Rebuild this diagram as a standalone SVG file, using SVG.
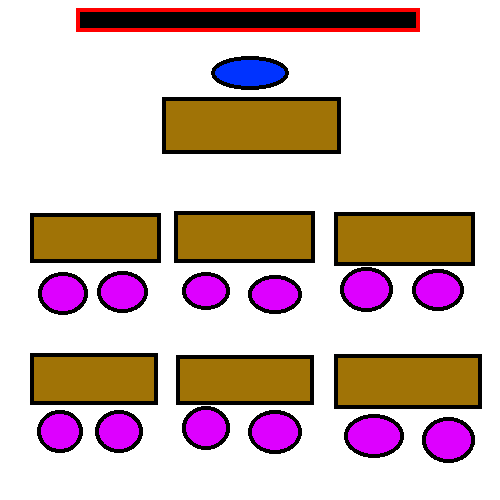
<svg xmlns="http://www.w3.org/2000/svg" width="500" height="500" viewBox="0 0 500 500">
<style>
rect,ellipse{shape-rendering:crispEdges;stroke-width:4}
.d{fill:#a07306;stroke:#000}
.s{fill:#dd00ff;stroke:#000}
</style>
<rect id="background" width="500" height="500" fill="#fff" stroke="none"/>
<g id="board"><rect x="78" y="10" width="340" height="20" fill="#000" stroke="#f00"/></g>
<g id="teacher"><ellipse cx="250" cy="73" rx="37" ry="15" fill="#0033ff" stroke="#000"/></g>
<g id="teacher-desk"><rect class="d" x="164" y="99" width="175" height="53"/></g>
<g id="desk-1"><rect class="d" x="32" y="215" width="127" height="46"/></g>
<g id="desk-2"><rect class="d" x="176" y="213" width="137" height="48"/></g>
<g id="desk-3"><rect class="d" x="336" y="214" width="137" height="50"/></g>
<g id="desk-4"><rect class="d" x="32" y="355" width="124" height="48"/></g>
<g id="desk-5"><rect class="d" x="178" y="357" width="134" height="46"/></g>
<g id="desk-6"><rect class="d" x="336" y="356" width="144" height="51"/></g>
<g id="student-1"><ellipse class="s" cx="63" cy="293.5" rx="23" ry="19.5"/></g>
<g id="student-2"><ellipse class="s" cx="122.5" cy="292" rx="23.5" ry="19"/></g>
<g id="student-3"><ellipse class="s" cx="206" cy="291" rx="22" ry="17"/></g>
<g id="student-4"><ellipse class="s" cx="275" cy="294.5" rx="25" ry="17.5"/></g>
<g id="student-5"><ellipse class="s" cx="366.5" cy="289.5" rx="24.5" ry="20.5"/></g>
<g id="student-6"><ellipse class="s" cx="438" cy="290" rx="24" ry="19"/></g>
<g id="student-7"><ellipse class="s" cx="60" cy="431.5" rx="21" ry="19.5"/></g>
<g id="student-8"><ellipse class="s" cx="119" cy="431.5" rx="22" ry="19.5"/></g>
<g id="student-9"><ellipse class="s" cx="206" cy="428" rx="22" ry="20"/></g>
<g id="student-10"><ellipse class="s" cx="275" cy="432" rx="25" ry="20"/></g>
<g id="student-11"><ellipse class="s" cx="374" cy="436" rx="28" ry="20"/></g>
<g id="student-12"><ellipse class="s" cx="448.5" cy="440" rx="24.5" ry="21"/></g>
</svg>
